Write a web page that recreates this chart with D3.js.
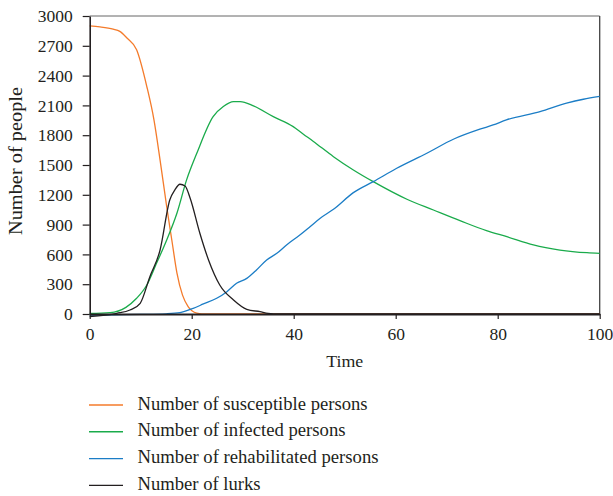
<!DOCTYPE html>
<html><head><meta charset="utf-8">
<script src="https://cdn.jsdelivr.net/npm/d3@7"></script>
<style>body{margin:0;background:#fff}svg{display:block}text{font-family:"Liberation Serif",serif;fill:#231f20}</style>
</head><body>
<svg id="c" width="613" height="496"></svg>
<script>
const xTicks = [0, 20, 40, 60, 80, 100];
const yTicks = [0, 300, 600, 900, 1200, 1500, 1800, 2100, 2400, 2700, 3000];
const seriesNames = ["Number of susceptible persons", "Number of infected persons", "Number of rehabilitated persons", "Number of lurks"];
const seriesColors = ["#f47b2b", "#1aab4b", "#1b7dc6", "#231f20"];
const susceptible = [[0,2900],[2,2890],[4.6,2867],[5.9,2845],[7.3,2778],[9.2,2660],[11.2,2290],[12.6,1955],[13.8,1550],[15.1,1080],[16.1,745],[17.1,415],[18.2,190],[19.3,75],[21,8],[22,0],[30,0],[100,0]];
const infected = [[0,5],[4,13],[7.1,67],[9.2,158],[11.2,292],[13.1,510],[15.1,745],[17.1,1014],[19,1350],[21,1618],[24.2,1987],[26.2,2088],[28.2,2138],[29.5,2138],[32.1,2095],[36,1987],[39.9,1886],[41.9,1810],[43.8,1740],[47.8,1584],[51.7,1450],[55.6,1332],[62.2,1155],[67.4,1047],[72.6,940],[77.8,839],[81.8,778],[87,695],[92.2,644],[97.5,617],[100,611]];
const rehabilitated = [[0,-12],[5,-8],[10,-4],[15,2],[17.7,13],[20.3,57],[22.3,101],[24.9,158],[26.9,225],[28.8,309],[30.8,359],[32.7,443],[34.7,544],[36.7,611],[38.6,695],[41.2,795],[43.2,879],[45.2,964],[47.8,1054],[51.7,1222],[55.6,1332],[60.2,1467],[66.1,1618],[71.3,1759],[76.5,1860],[79.1,1903],[81.7,1954],[88.3,2037],[93.5,2122],[96.8,2162],[100,2190]];
const lurks = [[0,-25],[5.3,7],[7.9,40],[9.9,108],[11.8,376],[13.8,644],[15.7,1148],[16.7,1249],[17.7,1306],[18.7,1289],[19.7,1165],[21.6,813],[23.3,544],[25.5,292],[28.2,141],[30.8,47],[33.4,23],[35,6],[37,0],[100,0]];
const seriesData = [susceptible, infected, rehabilitated, lurks];

const svg = d3.select("#c");
const L = 89.7, R = 599.7, T = 16, B = 314;
const x = d3.scaleLinear().domain([0, 100]).range([L, R]);
const y = d3.scaleLinear().domain([0, 3000]).range([B, T]);

svg.append("line").attr("x1", L).attr("x2", R).attr("y1", T).attr("y2", T).attr("stroke", "#666").attr("stroke-width", 1);
svg.append("line").attr("x1", R).attr("x2", R).attr("y1", T).attr("y2", B).attr("stroke", "#444").attr("stroke-width", 1.3);

const line = d3.line().x(d => x(d[0])).y(d => y(d[1])).curve(d3.curveMonotoneX);
seriesData.forEach((s, i) => {
  svg.append("path").attr("d", line(s)).attr("fill", "none").attr("stroke", seriesColors[i]).attr("stroke-width", 1.3);
});

const fmt = d3.format("d");
const yAxis = svg.append("g").attr("transform", `translate(${L},0)`)
  .call(d3.axisLeft(y).tickValues(yTicks).tickFormat(fmt).tickSize(7).tickSizeOuter(0).tickPadding(10));
const xAxis = svg.append("g").attr("transform", `translate(0,${B})`)
  .call(d3.axisBottom(x).tickValues(xTicks).tickFormat(fmt).tickSize(5).tickSizeOuter(0).tickPadding(9));
[yAxis, xAxis].forEach(g => {
  g.attr("font-family", "Liberation Serif").attr("font-size", 17);
  g.selectAll("text").attr("fill", "#231f20").style("font-size", "17.5px");
  g.selectAll(".tick line").attr("stroke", "#231f20").attr("stroke-width", 1.2);
});
yAxis.select(".domain").attr("stroke", "#231f20").attr("stroke-width", 1.6);
xAxis.select(".domain").attr("stroke", "#231f20").attr("stroke-width", 2.2);

svg.append("text").attr("x", x(50)).attr("y", 367).attr("text-anchor", "middle").style("font-size", "17.5px")
  .attr("textLength", 37).attr("lengthAdjust", "spacingAndGlyphs").text("Time");
svg.append("text").attr("transform", `translate(22,161) rotate(-90)`).attr("text-anchor", "middle").style("font-size", "18px")
  .attr("textLength", 148).attr("lengthAdjust", "spacingAndGlyphs").text("Number of people");

const legendLens = [230, 208, 241, 123];
const lg = svg.append("g");
seriesNames.forEach((n, i) => {
  const yy = 405 + i * 26.8;
  lg.append("line").attr("x1", 89).attr("x2", 123).attr("y1", yy).attr("y2", yy).attr("stroke", seriesColors[i]).attr("stroke-width", 1.4);
  lg.append("text").attr("x", 137.5).attr("y", yy + 4.5).style("font-size", "18px")
    .attr("textLength", legendLens[i]).attr("lengthAdjust", "spacingAndGlyphs").text(n);
});
</script>
</body></html>
